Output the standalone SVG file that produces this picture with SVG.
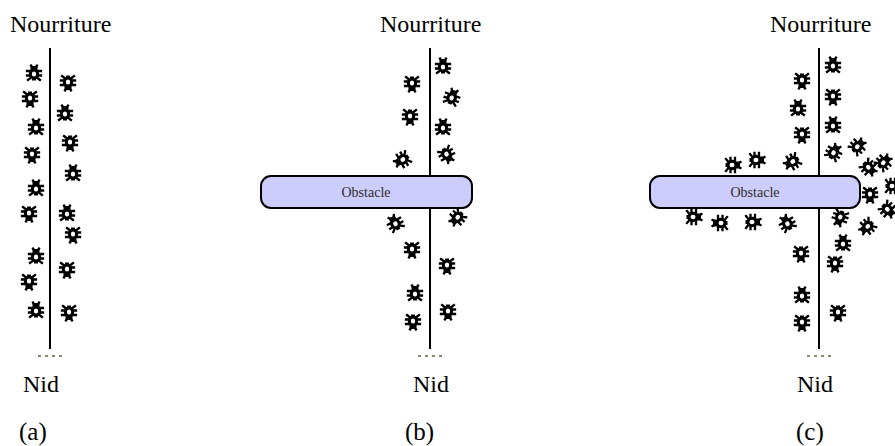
<svg xmlns="http://www.w3.org/2000/svg" xmlns:xlink="http://www.w3.org/1999/xlink" width="895" height="446" viewBox="0 0 895 446">
  <style>
    text { font-family: 'Liberation Serif', 'DejaVu Serif', serif; fill: #000; }
    .lbl { font-size: 24px; }
    .cap { font-size: 25px; }
    .obs { fill: #ccccff; stroke: #000; stroke-width: 2; }
    .obs-t { font-size: 14px; fill: #2e2e22; text-anchor: middle; }
    .trail { stroke: #000; stroke-width: 2; fill: none; }
    .nest { stroke: #8a8a70; stroke-width: 2; stroke-dasharray: 3 4; fill: none; }
  </style>
  <defs>
    <!-- ant glyph, head pointing up, centred on 0,0 -->
    <g id="ant">
      <g stroke="#000" stroke-width="2.3" fill="none" stroke-linecap="square">
        <path d="M-7 -2 H-4 M4 -2 H7 M-7 2.5 H-4 M4 2.5 H7 M-6 7 L-3.5 5 M6 7 L3.5 5 M-3 -7.5 L-2 -6 M3 -7.5 L2 -6"/>
      </g>
      <rect x="-3.5" y="-7" width="7" height="4.5" fill="#000"/>
      <ellipse cx="0" cy="1" rx="3.7" ry="4" fill="#fff" stroke="#000" stroke-width="3"/>
      <rect x="-2" y="4.5" width="4" height="3" fill="#000"/>
    </g>
  </defs>

  <!-- trails from food to nest -->
  <g id="connectors">
    <path class="trail" d="M50 48 V349"/>
    <path class="trail" d="M430 48 V349"/>
    <path class="trail" d="M819 48 V349"/>
    <path class="nest" d="M38 356 H63"/>
    <path class="nest" d="M418 356 H443"/>
    <path class="nest" d="M807 356 H832"/>
  </g>

  <!-- panel (a) -->
  <g id="panel-a">
    <text class="lbl" x="10" y="32" font-family="Liberation Serif, serif">Nourriture</text>
    <text class="lbl" x="23" y="392" font-family="Liberation Serif, serif">Nid</text>
    <text class="cap" x="19" y="440" font-family="Liberation Serif, serif">(a)</text>
    <g id="ants-a">
      <use xlink:href="#ant" transform="translate(34,73)"/>
      <use xlink:href="#ant" transform="translate(30,99) rotate(180)"/>
      <use xlink:href="#ant" transform="translate(36,127)"/>
      <use xlink:href="#ant" transform="translate(32,155) rotate(180)"/>
      <use xlink:href="#ant" transform="translate(36,188)"/>
      <use xlink:href="#ant" transform="translate(29,214) rotate(180)"/>
      <use xlink:href="#ant" transform="translate(36,256)"/>
      <use xlink:href="#ant" transform="translate(29,282) rotate(180)"/>
      <use xlink:href="#ant" transform="translate(36,310)"/>
      <use xlink:href="#ant" transform="translate(68,83) rotate(180)"/>
      <use xlink:href="#ant" transform="translate(65,113)"/>
      <use xlink:href="#ant" transform="translate(70,143) rotate(180)"/>
      <use xlink:href="#ant" transform="translate(73,173)"/>
      <use xlink:href="#ant" transform="translate(67,213)"/>
      <use xlink:href="#ant" transform="translate(73,235) rotate(180)"/>
      <use xlink:href="#ant" transform="translate(67,270) rotate(180)"/>
      <use xlink:href="#ant" transform="translate(69,313) rotate(180)"/>
    </g>
  </g>

  <!-- panel (b) -->
  <g id="panel-b">
    <text class="lbl" x="380" y="32">Nourriture</text>
    <text class="lbl" x="413" y="392">Nid</text>
    <text class="cap" x="405" y="440">(b)</text>
    <g id="obstacle-b">
      <rect class="obs" x="261" y="176" width="211" height="32" rx="10"/>
      <text class="obs-t" x="366" y="197">Obstacle</text>
    </g>
    <g id="ants-b">
      <use xlink:href="#ant" transform="translate(443,66)"/>
      <use xlink:href="#ant" transform="translate(412,84) rotate(180)"/>
      <use xlink:href="#ant" transform="translate(452,97) rotate(20)"/>
      <use xlink:href="#ant" transform="translate(410,117) rotate(180)"/>
      <use xlink:href="#ant" transform="translate(443,127)"/>
      <use xlink:href="#ant" transform="translate(402,160) rotate(-120)"/>
      <use xlink:href="#ant" transform="translate(447,155) rotate(150)"/>
      <use xlink:href="#ant" transform="translate(395,223) rotate(-30)"/>
      <use xlink:href="#ant" transform="translate(457,218) rotate(-135)"/>
      <use xlink:href="#ant" transform="translate(412,250) rotate(180)"/>
      <use xlink:href="#ant" transform="translate(447,266) rotate(180)"/>
      <use xlink:href="#ant" transform="translate(415,293)"/>
      <use xlink:href="#ant" transform="translate(413,322) rotate(180)"/>
      <use xlink:href="#ant" transform="translate(448,312) rotate(180)"/>
    </g>
  </g>

  <!-- panel (c) -->
  <g id="panel-c">
    <text class="lbl" x="770" y="32">Nourriture</text>
    <text class="lbl" x="797" y="392">Nid</text>
    <text class="cap" x="796" y="440">(c)</text>
    <g id="obstacle-c">
      <rect class="obs" x="650" y="176" width="210" height="32" rx="10"/>
      <text class="obs-t" x="755" y="197">Obstacle</text>
    </g>
    <g id="ants-c">
      <use xlink:href="#ant" transform="translate(833,65)"/>
      <use xlink:href="#ant" transform="translate(802,81) rotate(180)"/>
      <use xlink:href="#ant" transform="translate(833,97) rotate(180)"/>
      <use xlink:href="#ant" transform="translate(798,108)"/>
      <use xlink:href="#ant" transform="translate(833,125)"/>
      <use xlink:href="#ant" transform="translate(802,135) rotate(180)"/>
      <use xlink:href="#ant" transform="translate(834,152) rotate(30)"/>
      <use xlink:href="#ant" transform="translate(858,146) rotate(45)"/>
      <use xlink:href="#ant" transform="translate(792,162) rotate(-120)"/>
      <use xlink:href="#ant" transform="translate(757,160) rotate(90)"/>
      <use xlink:href="#ant" transform="translate(733,165) rotate(90)"/>
      <use xlink:href="#ant" transform="translate(869,168) rotate(135)"/>
      <use xlink:href="#ant" transform="translate(884,162) rotate(45)"/>
      <use xlink:href="#ant" transform="translate(893,186) rotate(90)"/>
      <use xlink:href="#ant" transform="translate(870,195) rotate(180)"/>
      <use xlink:href="#ant" transform="translate(888,210) rotate(135)"/>
      <use xlink:href="#ant" transform="translate(840,218) rotate(200)"/>
      <use xlink:href="#ant" transform="translate(867,227) rotate(230)"/>
      <use xlink:href="#ant" transform="translate(843,243)"/>
      <use xlink:href="#ant" transform="translate(835,264) rotate(180)"/>
      <use xlink:href="#ant" transform="translate(787,223) rotate(-30)"/>
      <use xlink:href="#ant" transform="translate(753,222) rotate(90)"/>
      <use xlink:href="#ant" transform="translate(720,223) rotate(-90)"/>
      <use xlink:href="#ant" transform="translate(694,217) rotate(90)"/>
      <use xlink:href="#ant" transform="translate(801,254) rotate(180)"/>
      <use xlink:href="#ant" transform="translate(802,295)"/>
      <use xlink:href="#ant" transform="translate(802,323) rotate(180)"/>
      <use xlink:href="#ant" transform="translate(838,313) rotate(180)"/>
    </g>
  </g>
</svg>
